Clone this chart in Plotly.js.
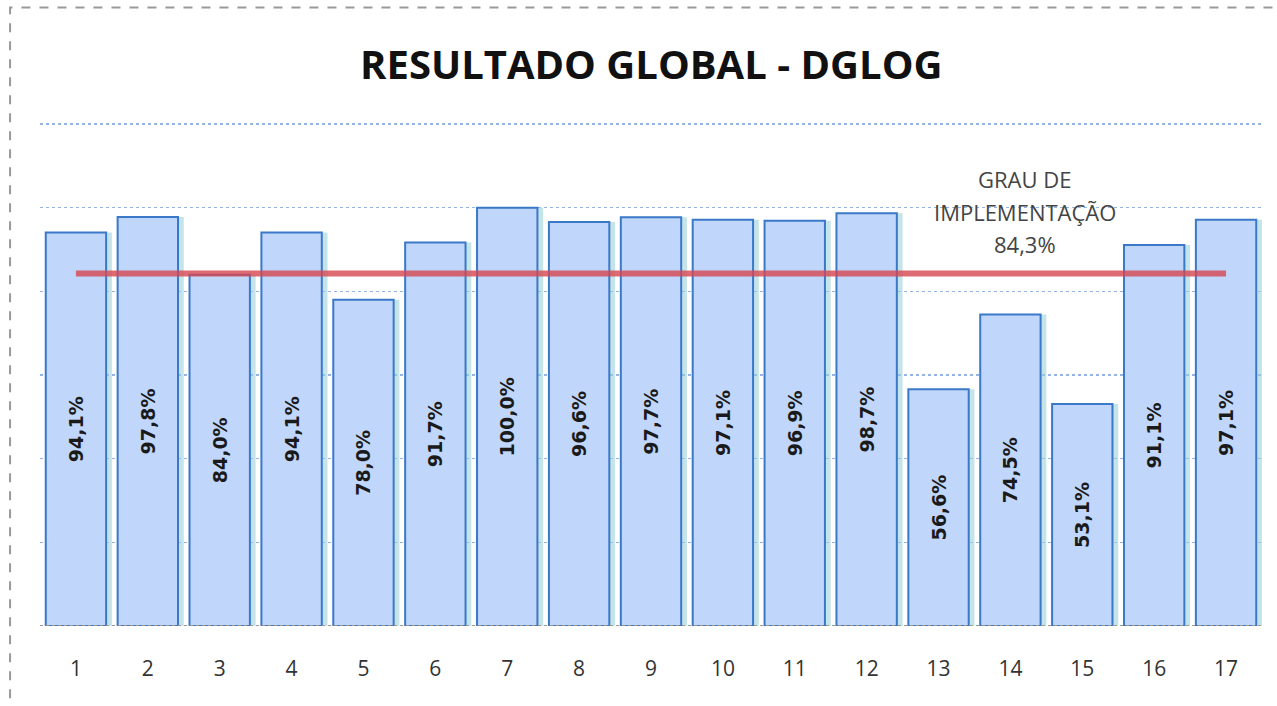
<!DOCTYPE html>
<html>
<head>
<meta charset="utf-8">
<script src="https://cdn.plot.ly/plotly-3.0.1.min.js"></script>
<style>
  html, body { margin: 0; padding: 0; background: white; }
  #chart { width: 1277px; height: 706px; }
</style>
</head>
<body>
<div id="chart"></div>
<script>
// Data
const categories = ["1", "2", "3", "4", "5", "6", "7", "8", "9", "10", "11", "12", "13", "14", "15", "16", "17"];
const results = [94.1, 97.8, 84.0, 94.1, 78.0, 91.7, 100.0, 96.6, 97.7, 97.1, 96.9, 98.7, 56.6, 74.5, 53.1, 91.1, 97.1];
const targetValue = 84.3;
const targetLabel = ["GRAU DE", "IMPLEMENTAÇÃO", "84,3%"];
const chartTitle = "RESULTADO GLOBAL - DGLOG";

// Percent labels with a comma as decimal mark
function pct(v) {
  return v.toFixed(1).replace(".", ",") + "%";
}

// Soft shadow to the right of each bar
var shadow = {
  x: categories,
  y: results,
  type: "bar",
  width: 0.84,
  offset: -0.34,
  marker: { color: "rgba(150,205,215,0.55)", line: { width: 0 } },
  hoverinfo: "none"
};

var bars = {
  x: categories,
  y: results,
  type: "bar",
  width: 0.84,
  offset: -0.42,
  text: results.map(pct),
  textposition: "inside",
  insidetextanchor: "middle",
  textangle: -90,
  constraintext: "none",
  textfont: { family: "DejaVu Sans", size: 19, color: "#1a1a1a", weight: "bold" },
  marker: {
    color: "#c0d6fb",
    line: { color: "#3a78c8", width: 2 }
  },
  hoverinfo: "none"
};

// Red line for the overall implementation level
var target = {
  x: [categories[0], categories[categories.length - 1]],
  y: [targetValue, targetValue],
  type: "scatter",
  mode: "lines",
  line: { color: "rgba(214,70,80,0.8)", width: 6 },
  hoverinfo: "none"
};

// Label lines sit above the red line, one annotation each
var labelAnnotations = targetLabel.map(function(line, i) {
  return {
    x: 13.2,
    y: 106.8 - i * 7.7,
    xref: "x",
    yref: "y",
    text: line,
    showarrow: false,
    font: { family: "Open Sans", size: 22, color: "#444444" }
  };
});

var layout = {
  width: 1277,
  height: 706,
  margin: { l: 40, r: 15, t: 122, b: 80 },
  paper_bgcolor: "white",
  plot_bgcolor: "white",
  showlegend: false,
  barmode: "overlay",
  title: {
    text: "<b>" + chartTitle + "</b>",
    font: { family: "Open Sans", size: 40, color: "#111111" },
    x: 0.51,
    xanchor: "center",
    y: 0.908,
    yanchor: "middle"
  },
  xaxis: {
    type: "category",
    showgrid: false,
    zeroline: false,
    showline: false,
    ticks: "",
    ticklabelstandoff: 28,
    tickfont: { family: "Open Sans", size: 21, color: "#333333" }
  },
  yaxis: {
    range: [0, 120.5],
    dtick: 20,
    showticklabels: false,
    showgrid: true,
    gridcolor: "#94b4e6",
    gridwidth: 1.5,
    griddash: "dot",
    zeroline: false,
    showline: false
  },
  annotations: labelAnnotations,
  shapes: [
    {
      type: "line", xref: "paper", yref: "y",
      x0: 0, x1: 1, y0: 0, y1: 0,
      line: { color: "#999999", width: 2, dash: "dot" }
    },
    {
      type: "rect", xref: "paper", yref: "paper",
      x0: -0.0245, x1: 1.03, y0: -0.2, y1: 1.227,
      line: { color: "#999999", width: 2, dash: "dash" },
      layer: "below"
    }
  ]
};

Plotly.newPlot("chart", [shadow, bars, target], layout, { displayModeBar: false, staticPlot: true });
</script>
</body>
</html>
